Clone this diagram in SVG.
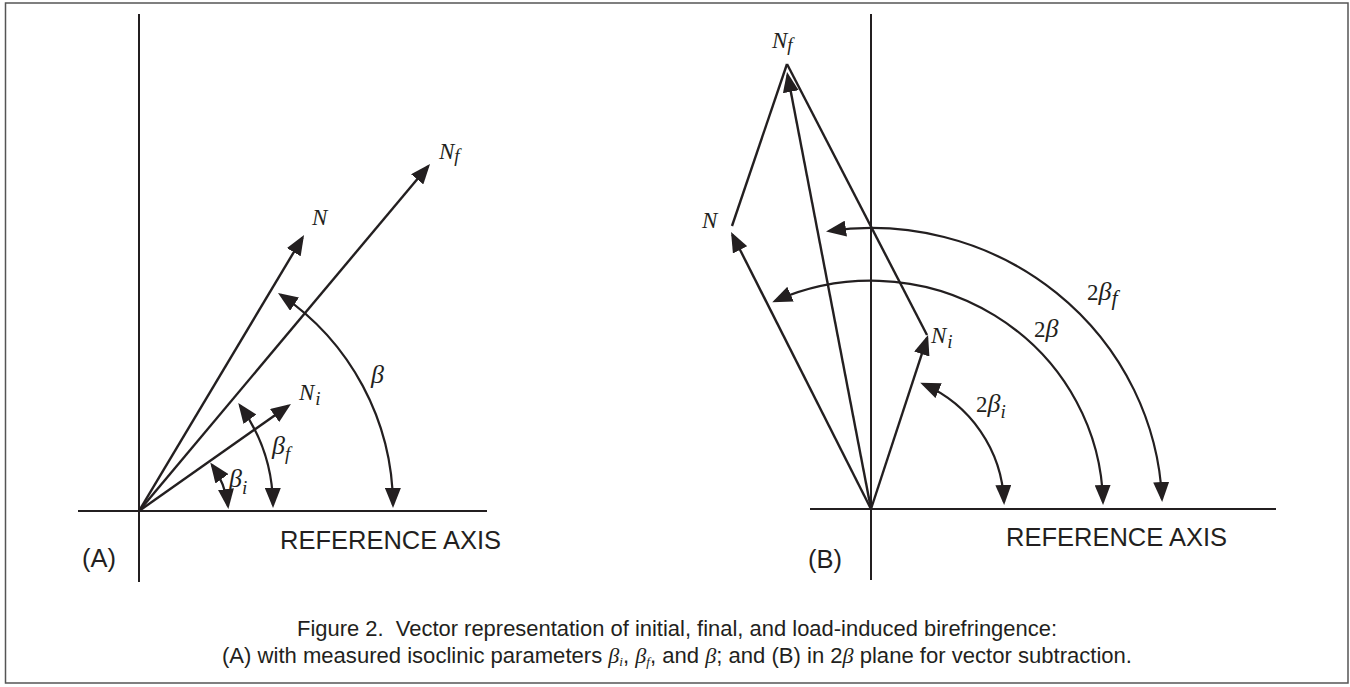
<svg xmlns="http://www.w3.org/2000/svg" width="1350" height="687" viewBox="0 0 1350 687">
<style>
.ax{stroke:#231f20;stroke-width:2;fill:none}
.vec{stroke:#231f20;stroke-width:2.4;fill:none}
.arc{stroke:#231f20;stroke-width:2.2;fill:none}
.lbl{font-family:"Liberation Serif","Times New Roman",serif;font-style:italic;font-size:23px;fill:#231f20}
.gl{font-size:26px}
.sub{font-size:19px}
.sans{font-family:"Liberation Sans",Arial,Helvetica,sans-serif;font-size:25.5px;fill:#231f20}
.cap{font-family:"Liberation Sans",Arial,Helvetica,sans-serif;font-size:21.5px;fill:#231f20}
.gk{font-family:"Liberation Serif","Times New Roman",serif;font-style:italic}
.csub{font-family:"Liberation Serif","Times New Roman",serif;font-style:italic;font-size:13px}
</style>
<defs>
<marker id="ah" viewBox="0 0 20 16" refX="17" refY="8" markerWidth="20" markerHeight="16" markerUnits="userSpaceOnUse" orient="auto-start-reverse">
<path d="M0,0 L20,8 L0,16 z" fill="#231f20"/>
</marker>
</defs>
<rect x="5.5" y="3" width="1342.5" height="680" fill="#fff" stroke="#555" stroke-width="1.5"/>

<g id="panelA-axes">
<line class="ax" x1="139" y1="14" x2="139" y2="582"/>
<line class="ax" x1="78" y1="511" x2="487" y2="511"/>
</g>
<g id="panelB-axes">
<line class="ax" x1="871" y1="14" x2="871" y2="580"/>
<line class="ax" x1="810" y1="509" x2="1276" y2="509"/>
</g>

<g id="connectors">
<line class="vec" x1="139" y1="511" x2="302.5" y2="237.6" marker-end="url(#ah)"/>
<line class="vec" x1="139" y1="511" x2="428.1" y2="166.3" marker-end="url(#ah)"/>
<line class="vec" x1="139" y1="511" x2="288.5" y2="405.7" marker-end="url(#ah)"/>
<path class="arc" d="M393,505 A256 256 0 0 0 280.5,294.6" marker-start="url(#ah)" marker-end="url(#ah)"/>
<path class="arc" d="M273,505 A172 172 0 0 0 240,405.5" marker-start="url(#ah)" marker-end="url(#ah)"/>
<path class="arc" d="M228,506 A88 88 0 0 0 212,465" marker-start="url(#ah)" marker-end="url(#ah)"/>
<line class="vec" x1="871" y1="509" x2="732.4" y2="234.7" marker-end="url(#ah)"/>
<line class="vec" x1="871" y1="509" x2="787.6" y2="75" marker-end="url(#ah)"/>
<line class="vec" x1="871" y1="509" x2="927.1" y2="337.9" marker-end="url(#ah)"/>
<line class="vec" x1="732" y1="226" x2="787" y2="64"/>
<line class="vec" x1="787" y1="64" x2="927" y2="335"/>
<path class="arc" d="M1103,502 A232 226 0 0 0 775,301" marker-start="url(#ah)" marker-end="url(#ah)"/>
<path class="arc" d="M1162,499 A291 284 0 0 0 829,231" marker-start="url(#ah)" marker-end="url(#ah)"/>
<path class="arc" d="M1004,502 A134 134 0 0 0 923,384" marker-start="url(#ah)" marker-end="url(#ah)"/>
</g>

<g id="labelsA">
<text class="lbl" x="312" y="225">N</text>
<text class="lbl" x="439" y="159">N<tspan class="sub" font-size="22" dy="3">f</tspan></text>
<text class="lbl" x="299" y="400">N<tspan class="sub" dx="1" dy="5">i</tspan></text>
<text class="lbl gl" x="371" y="383">β</text>
<text class="lbl" x="272" y="454"><tspan class="gl">β</tspan><tspan class="sub" dy="6">f</tspan></text>
<text class="lbl" x="229" y="487"><tspan class="gl">β</tspan><tspan class="sub" dy="7">i</tspan></text>
<text class="sans" x="280" y="549">REFERENCE AXIS</text>
<text class="sans" x="82" y="567" font-size="22">(A)</text>
</g>

<g id="labelsB">
<text class="lbl" x="702" y="228">N</text>
<text class="lbl" x="772" y="48">N<tspan class="sub" font-size="22" dy="3">f</tspan></text>
<text class="lbl" x="931" y="343">N<tspan class="sub" dx="1" dy="5">i</tspan></text>
<text class="lbl" x="1034" y="337"><tspan font-style="normal">2</tspan><tspan class="gl">β</tspan></text>
<text class="lbl" x="1087" y="300"><tspan font-style="normal">2</tspan><tspan class="gl">β</tspan><tspan font-size="22" dy="5">f</tspan></text>
<text class="lbl" x="976" y="412"><tspan font-style="normal">2</tspan><tspan class="gl">β</tspan><tspan class="sub" dy="6">i</tspan></text>
<text class="sans" x="1006" y="546">REFERENCE AXIS</text>
<text class="sans" x="808" y="568" font-size="22">(B)</text>
</g>

<g id="caption">
<text class="cap" x="677" y="636" text-anchor="middle" textLength="760" lengthAdjust="spacingAndGlyphs">Figure 2.&#160; Vector representation of initial, final, and load-induced birefringence:</text>
<text class="cap" x="677" y="663" text-anchor="middle" textLength="910" lengthAdjust="spacingAndGlyphs">(A) with measured isoclinic parameters <tspan class="gk">β</tspan><tspan class="csub" dy="3">i</tspan><tspan dy="-3">, </tspan><tspan class="gk">β</tspan><tspan class="csub" dy="3">f</tspan><tspan dy="-3">, and </tspan><tspan class="gk">β</tspan>; and (B) in 2<tspan class="gk">β</tspan> plane for vector subtraction.</text>
</g>
</svg>
